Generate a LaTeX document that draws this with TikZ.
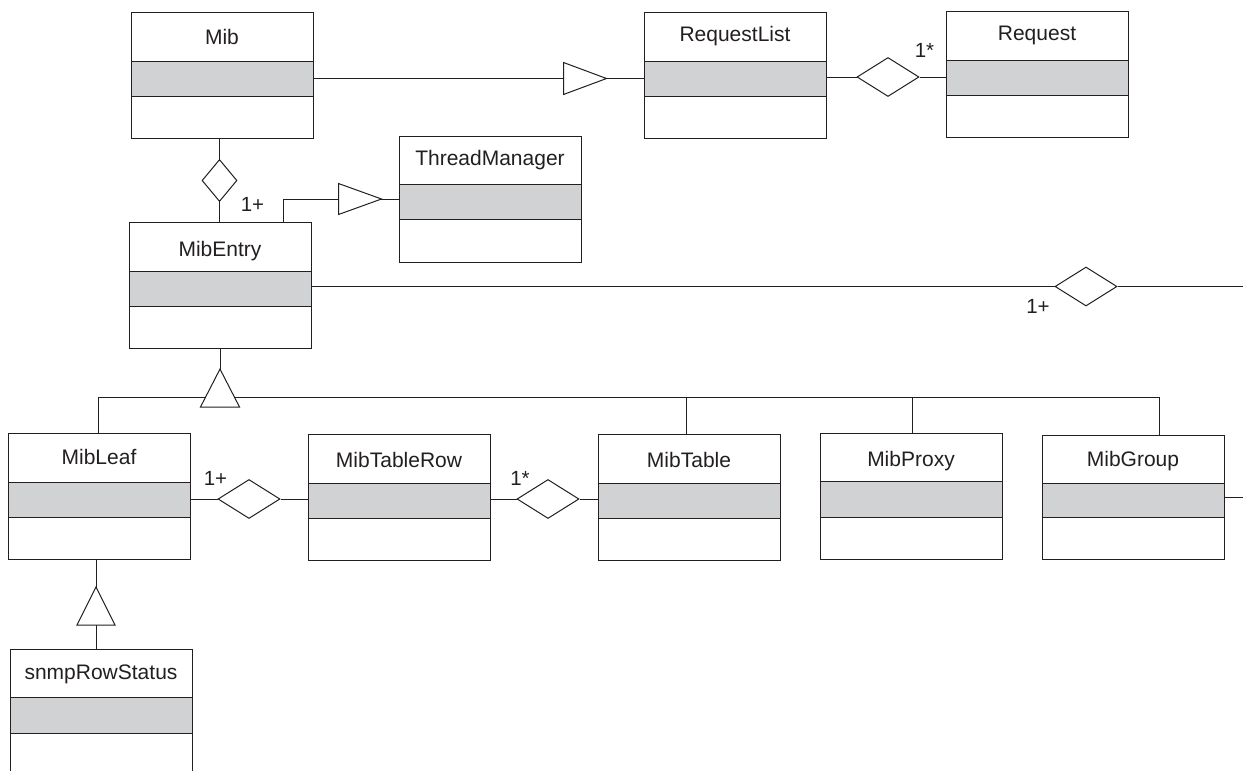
\documentclass[tikz,border=0pt]{standalone}
\usepackage{fontspec}
\setmainfont{Liberation Sans}
\usetikzlibrary{shapes.geometric,fit,calc}
\definecolor{ink}{RGB}{35,31,32}
\definecolor{bandgray}{RGB}{209,210,212}
\tikzset{
 clsbox/.style={draw=ink, line width=1pt, inner sep=0pt, fill=white},
 bandbox/.style={draw=ink, line width=1pt, inner sep=0pt, fill=bandgray},
 title/.style={font=\fontsize{21}{24}\selectfont, text=ink, inner sep=0pt, anchor=base},
 mult/.style={font=\fontsize{20.5}{24}\selectfont, text=ink, inner sep=0pt, anchor=base},
 agg/.style={diamond, draw=ink, fill=white, line width=1pt, inner sep=0pt, minimum width=62pt, minimum height=39pt},
 conn/.style={draw=ink, line width=1pt},
 tri/.style={draw=ink, fill=white, line width=1pt},
}
% name, x1, y1, x2, y2, band top, band bottom, title baseline, title
\newcommand\umlclass[9]{%
 \node[clsbox, fit={(#2,#3)(#4,#5)}] (#1) {};
 \node[bandbox, fit={(#2,#6)(#4,#7)}] (#1-b) {};
 \node[title] (#1-t) at ({(#2+#4)/2},#8) {#9};
}
\begin{document}
\begin{tikzpicture}[x=1pt,y=-1pt]
\useasboundingbox (0,0) rectangle (1243,771);
\clip (0,0) rectangle (1243,771);

\umlclass{Mib}{131}{12}{313}{138}{61}{96}{45}{Mib}
\umlclass{RequestList}{644}{12}{826}{138}{61}{96}{41}{RequestList}
\umlclass{Request}{946}{11}{1128}{137}{60}{95}{40}{Request}
\umlclass{ThreadManager}{399}{136}{581}{262}{184}{219}{165.5}{ThreadManager}
\umlclass{MibEntry}{129}{222}{311}{348}{271}{306}{256}{MibEntry}
\umlclass{MibLeaf}{8}{433}{190}{559}{482}{517}{464.5}{MibLeaf}
\umlclass{MibTableRow}{308}{434}{490}{560}{483}{518}{467.5}{MibTableRow}
\umlclass{MibTable}{598}{434}{780}{560}{483}{518}{467.5}{MibTable}
\umlclass{MibProxy}{820}{433}{1002}{559}{481}{517}{466}{MibProxy}
\umlclass{MibGroup}{1042}{435}{1224}{559}{483}{517}{466}{MibGroup}
\umlclass{snmpRowStatus}{10}{649}{192}{800}{697}{733}{679.5}{snmpRowStatus}

% Mib -> RequestList
\draw[conn] (Mib-b.east) -- (RequestList-b.west);
\draw[tri] ($(RequestList-b.west)+(-37,0)$) -- ++(-43,-16) -- ++(0,32) -- cycle;

% RequestList - Request
\node[agg] (a1) at (888,77) {};
\draw[conn] (RequestList-b.east |- a1) -- (a1.west);
\draw[conn] (a1.east) -- (Request-b.west |- a1);
\node[mult] at (924.5,57) {1*};

% Mib - MibEntry
\node[agg, minimum width=35pt, minimum height=42pt] (a2) at (219.5,180.5) {};
\draw[conn] (a2.north) -- (a2.north |- Mib.south);
\draw[conn] (a2.south) -- (a2.south |- MibEntry.north);
\node[mult] at (252.5,211.5) {1+};

% MibEntry -> ThreadManager
\coordinate (c1) at (283,199);
\draw[conn] (c1 |- MibEntry.north) -- (c1) -- (c1 -| ThreadManager.west);
\draw[tri] ($(c1 -| ThreadManager.west)+(-17,0)$) -- ++(-43,-15.5) -- ++(0,31) -- cycle;

% MibEntry - right
\node[agg] (a3) at (1086,286.5) {};
\coordinate (e1) at (1243,286.5);
\draw[conn] (MibEntry-b.east |- a3) -- (a3.west);
\draw[conn] (a3.east) -- (e1);
\node[mult] at (1038,313) {1+};

% Generalisation of MibEntry
\coordinate (dL) at (98,397);
\coordinate (dT) at (686,397);
\coordinate (dP) at (912,397);
\coordinate (dG) at (1159,397);
\draw[conn] (MibEntry.south) -- (MibEntry.south |- dL);
\draw[conn] (dL |- MibLeaf.north) -- (dL) -- (dG) -- (dG |- MibGroup.north);
\draw[conn] (dT) -- (dT |- MibTable.north);
\draw[conn] (dP) -- (dP |- MibProxy.north);
\draw[tri] ($(MibEntry.south)+(0,20.5)$) -- ++(19.5,38) -- ++(-39,0) -- cycle;

% MibLeaf - MibTableRow
\node[agg] (a4) at (249,499) {};
\draw[conn] (MibLeaf-b.east |- a4) -- (a4.west);
\draw[conn] (a4.east) -- (MibTableRow-b.west |- a4);
\node[mult] at (215.5,485.5) {1+};

% MibTableRow - MibTable
\node[agg] (a5) at (548,499) {};
\draw[conn] (MibTableRow-b.east |- a5) -- (a5.west);
\draw[conn] (a5.east) -- (MibTable-b.west |- a5);
\node[mult] at (520,485.5) {1*};

% MibGroup - right
\coordinate (e2) at (1243,497);
\draw[conn] (MibGroup-b.east |- e2) -- (e2);

% MibLeaf -> snmpRowStatus
\coordinate (s1) at (96,600);
\draw[conn] (s1 |- MibLeaf.south) -- (s1 |- snmpRowStatus.north);
\draw[tri] (96,587) -- ++(19,38) -- ++(-38,0) -- cycle;
\end{tikzpicture}
\end{document}
